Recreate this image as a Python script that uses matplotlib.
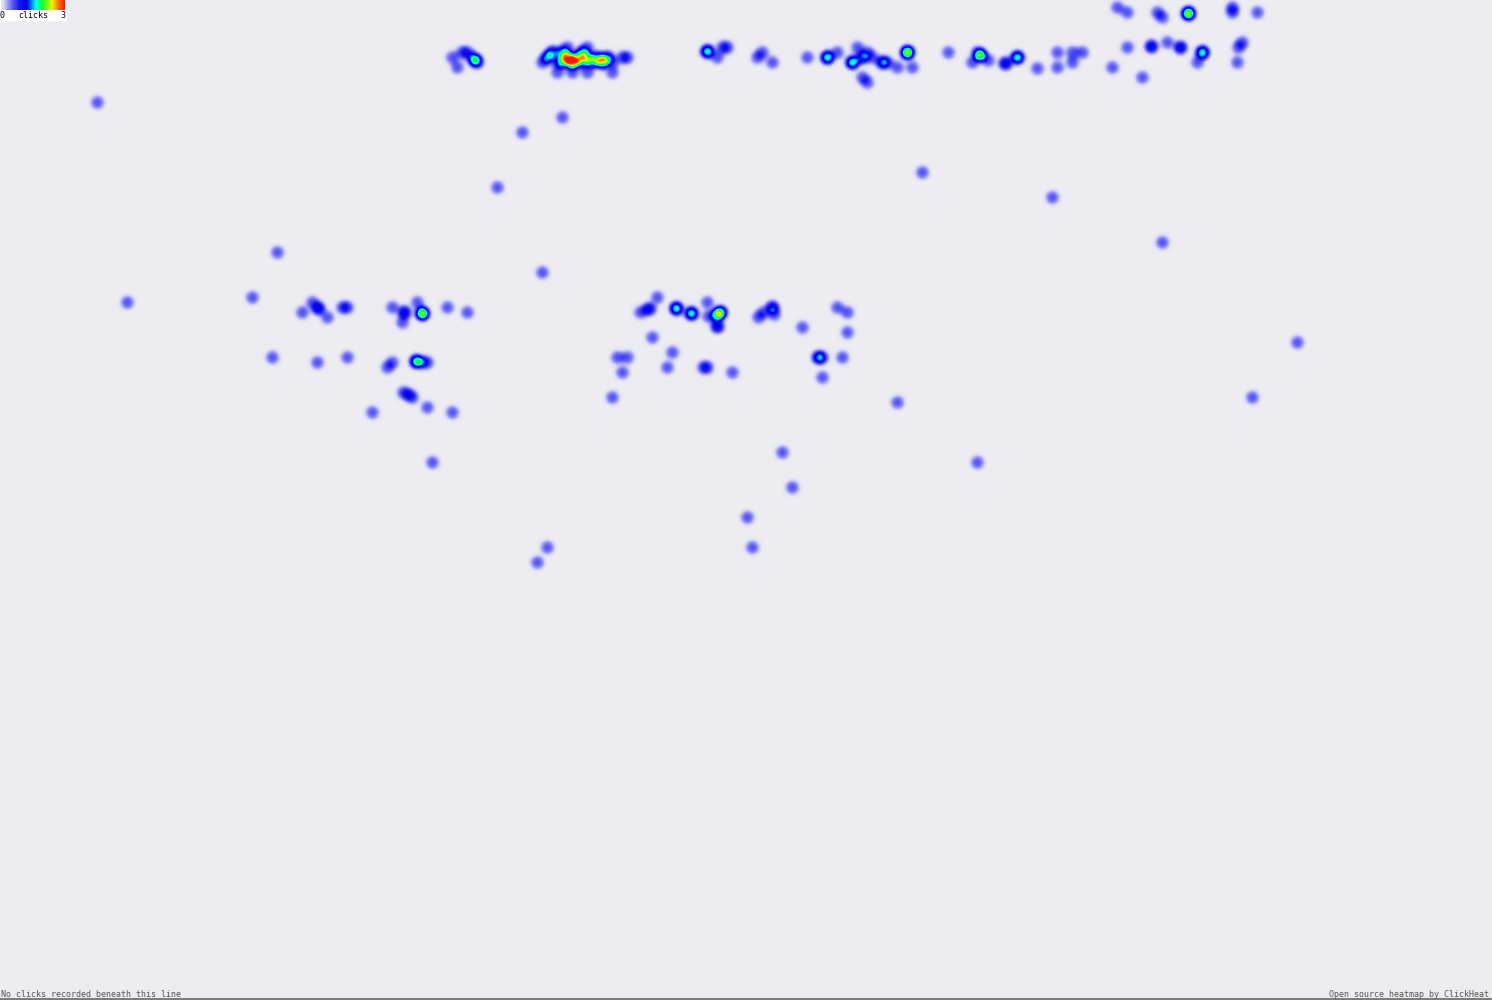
"""Click heatmap (ClickHeat style) rebuilt with matplotlib."""

import numpy as np
import matplotlib
matplotlib.use("Agg")
import matplotlib.pyplot as plt
from matplotlib.colors import LinearSegmentedColormap

W, H = 1492, 1000

# click positions (page pixels) and number of clicks at each spot
click_x = [
    # top band, left group
    452, 457, 462, 467, 472, 475, 477,
    # top band, big cluster
    547, 552, 557, 562, 562, 567, 572, 577, 582, 582, 587, 592, 597, 602, 607, 612,
    587, 567, 557, 572, 587, 612, 622, 627, 542,
    # top band, middle
    707, 717, 722, 727, 757, 762, 772, 807, 827, 837, 852, 857, 862, 867, 872, 882,
    887, 897, 907, 912, 862, 867,
    # top band, right
    948, 980, 977, 972, 988, 1005, 1017, 1037, 1057, 1057, 1072, 1082, 1072, 1112,
    1127, 1142, 1117, 1127, 1157, 1162, 1188, 1232, 1232, 1257, 1151, 1167, 1180,
    1202, 1197, 1242, 1238, 1237,
    # scattered singles
    97, 522, 562, 497, 922, 1052, 1162, 277, 542, 127, 252, 1297, 1252, 897, 977,
    432, 782, 792, 747, 752, 547, 537, 272,
    # left middle group
    302, 312, 318, 327, 342, 347, 392, 404, 402, 417, 422, 447, 467, 317, 347, 387,
    392, 416, 422, 427, 403, 408, 412, 372, 427, 452,
    # centre middle group
    640, 647, 650, 657, 676, 691, 707, 708, 716, 720, 717, 758, 763, 772, 774, 802,
    837, 847, 847, 652, 672, 667, 703, 707, 732, 818, 822, 842, 822, 617, 627, 622, 612,
]
click_y = [
    57, 67, 52, 52, 57, 60, 62,
    57, 52, 62, 52, 62, 57, 62, 57, 52, 62, 57, 62, 57, 62, 57, 62,
    47, 47, 72, 72, 72, 72, 57, 57, 62,
    51, 57, 47, 47, 57, 52, 62, 57, 57, 52, 62, 47, 57, 52, 57, 62,
    62, 67, 52, 67, 77, 82,
    52, 55, 52, 62, 60, 63, 57, 68, 52, 67, 52, 52, 62, 67,
    47, 77, 7, 12, 12, 17, 13, 7, 12, 12, 46, 42, 47,
    52, 62, 42, 47, 62,
    102, 132, 117, 187, 172, 197, 242, 252, 272, 302, 297, 342, 397, 402, 462,
    462, 452, 487, 517, 547, 547, 562, 357,
    312, 302, 308, 317, 307, 307, 307, 312, 322, 302, 313, 307, 312, 362, 357, 367,
    362, 361, 362, 362, 392, 394, 397, 412, 407, 412,
    312, 309, 308, 297, 308, 313, 302, 316, 315, 312, 326, 317, 312, 307, 314, 327,
    307, 312, 332, 337, 352, 367, 367, 367, 372, 357, 357, 357, 377, 357, 357, 372, 397,
]
click_n = [
    1, 1, 1, 1, 1, 2, 1,
    2, 2, 1, 2, 2, 3, 4, 2, 2, 2, 2, 2, 2, 3, 2, 1,
    1, 1, 1, 1, 1, 1, 1, 1, 1,
    3, 1, 1, 1, 1, 1, 1, 1, 3, 1, 3, 1, 2, 1, 1, 2,
    1, 1, 4, 1, 1, 1,
    1, 3, 1, 1, 1, 2, 3, 1, 1, 1, 1, 1, 1, 1,
    1, 1, 1, 1, 1, 1, 4, 1, 1, 1, 2, 1, 2,
    3, 1, 1, 1, 1,
    1, 1, 1, 1, 1, 1, 1, 1, 1, 1, 1, 1, 1, 1, 1,
    1, 1, 1, 1, 1, 1, 1, 1,
    1, 1, 2, 1, 1, 1, 1, 2, 1, 1, 4, 1, 1, 1, 1, 1,
    1, 3, 1, 1, 1, 1, 1, 1, 1, 1,
    1, 1, 1, 1, 3, 3, 1, 1, 2, 3, 2, 1, 1, 2, 1, 1,
    1, 1, 1, 1, 1, 1, 1, 1, 1, 2, 1, 1, 1, 1, 1, 1, 1,
]

legend_labels = ["0", "clicks", "3"]
note_left = "No clicks recorded beneath this line"
note_right = "Open source heatmap by ClickHeat"

bg = (236 / 255, 236 / 255, 241 / 255)

# heat colours: background -> light blue -> blue -> cyan -> green -> yellow -> red
vmax = 5.5
stops = [
    (0.0, bg),
    (0.15 / vmax, (222 / 255, 222 / 255, 246 / 255)),
    (0.5 / vmax, (160 / 255, 160 / 255, 247 / 255)),
    (1.0 / vmax, (85 / 255, 85 / 255, 242 / 255)),
    (1.6 / vmax, (20 / 255, 20 / 255, 240 / 255)),
    (2.2 / vmax, (0, 0, 225 / 255)),
    (3.0 / vmax, (0, 1, 1)),
    (3.5 / vmax, (0, 1, 0.2)),
    (4.4 / vmax, (0.9, 1, 0)),
    (4.9 / vmax, (1, 0.5, 0)),
    (1.0, (1, 0.1, 0)),
]
heat_cmap = LinearSegmentedColormap.from_list("clickheat", stops)

# accumulate a soft dot for every click (flat-ish top, soft rim)
heat = np.zeros((H, W))
R = 13
yy, xx = np.mgrid[-R:R + 1, -R:R + 1]
dot = np.exp(-((xx ** 2 + yy ** 2) / (2 * 4.6 ** 2)) ** 1.3)
for x, y, n in zip(click_x, click_y, click_n):
    y0, y1 = max(0, y - R), min(H, y + R + 1)
    x0, x1 = max(0, x - R), min(W, x + R + 1)
    heat[y0:y1, x0:x1] += n * dot[y0 - (y - R):y1 - (y - R), x0 - (x - R):x1 - (x - R)]

fig = plt.figure(figsize=(W / 100, H / 100), dpi=100)
ax = fig.add_axes([0, 0, 1, 1])
ax.imshow(heat, cmap=heat_cmap, vmin=0, vmax=vmax, extent=(0, W, H, 0),
          interpolation="nearest", aspect="auto")

# colour legend in the corner
ax.add_patch(plt.Rectangle((0, 0), 66, 20, color="white", zorder=2))
ramp = np.linspace(0.0, 1.0, 64)[None, :]
legend_cmap = LinearSegmentedColormap.from_list(
    "legend", [(0.0, (0.9, 0.9, 0.95))] + [(p, c) for p, c in stops[1:]])
ax.imshow(ramp, cmap=legend_cmap, extent=(1, 65, 10, 0), aspect="auto", zorder=3)
ax.text(0, 15, legend_labels[0], fontsize=6, family="DejaVu Sans Mono",
        va="center", ha="left", zorder=4)
ax.text(33, 15, legend_labels[1], fontsize=6, family="DejaVu Sans Mono",
        va="center", ha="center", zorder=4)
ax.text(65, 15, legend_labels[2], fontsize=6, family="DejaVu Sans Mono",
        va="center", ha="right", zorder=4)

# footer line and notes
ax.axhline(998.5, color="#666666", linewidth=1.2)
ax.text(1, 994.5, note_left, fontsize=6, family="DejaVu Sans Mono", color="#555555",
        va="center", ha="left")
ax.text(1489, 994.5, note_right, fontsize=6, family="DejaVu Sans Mono", color="#555555",
        va="center", ha="right")

ax.set_xlim(0, W)
ax.set_ylim(H, 0)
ax.axis("off")
fig.savefig("out.png", dpi=100, facecolor=bg)
